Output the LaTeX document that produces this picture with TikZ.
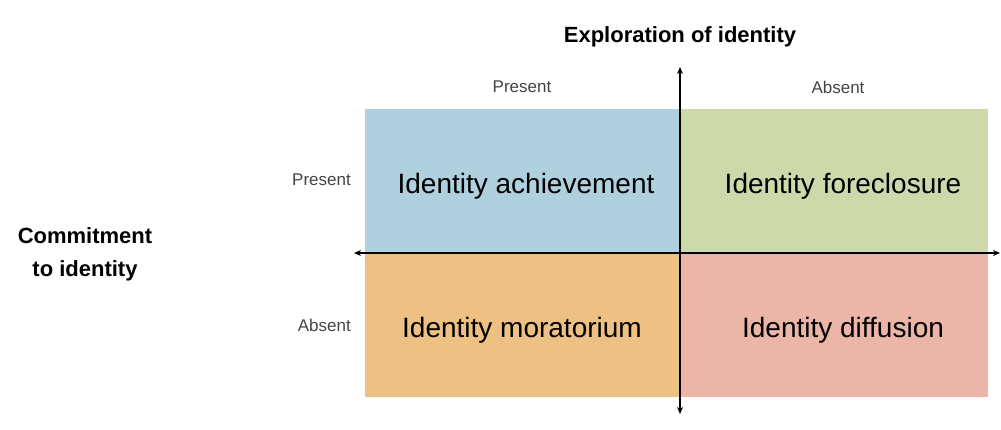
\documentclass[tikz,border=0pt]{standalone}
\usepackage{fontspec}
\setmainfont{Liberation Sans}
\usetikzlibrary{arrows.meta}
\definecolor{qblue}{HTML}{AED0DF}
\definecolor{qgreen}{HTML}{CDD9AB}
\definecolor{qorange}{HTML}{EDC084}
\definecolor{qpink}{HTML}{EBB5A8}
\definecolor{lblgrey}{HTML}{444444}
\begin{document}
\begin{tikzpicture}[x=1pt,y=-1pt,
  quad/.style={rectangle, inner sep=0pt, anchor=north west},
  qtext/.style={font=\fontsize{28}{30}\selectfont, inner sep=0pt, text=black},
  small/.style={font=\fontsize{17}{19}\selectfont, text=lblgrey, inner sep=0pt},
  title/.style={font=\bfseries\fontsize{22}{33}\selectfont, inner sep=0pt, align=center},
  axis/.style={line width=1.4pt, -{Stealth[length=7pt,width=6pt]}}]
\useasboundingbox (0,0) rectangle (1001,429);
\node[quad, fill=qblue, minimum width=315pt, minimum height=144pt] (ach) at (365,109) {};
\node[quad, fill=qgreen, minimum width=308pt, minimum height=144pt] (fore) at (680,109) {};
\node[quad, fill=qorange, minimum width=315pt, minimum height=144pt] (mor) at (365,253) {};
\node[quad, fill=qpink, minimum width=308pt, minimum height=144pt] (dif) at (680,253) {};
\node[qtext] (tach) at (526,186) {Identity achievement};
\node[qtext] (tfore) at (843,186) {Identity foreclosure};
\node[qtext] (tmor) at (522,330) {Identity moratorium};
\node[qtext] (tdif) at (843,330) {Identity diffusion};
\coordinate (vtop) at (680,67);
\coordinate (vbot) at (680,414);
\coordinate (hleft) at (354,253);
\coordinate (hright) at (1000,253);
\coordinate (vmid) at (680,253);
\draw[axis] (vmid) -- (vtop);
\draw[axis] (vmid) -- (vbot);
\draw[axis] (vmid) -- (hleft);
\draw[axis] (vmid) -- (hright);
\node[small] (pt) at (522,87) {Present};
\node[small] (at) at (838,87) {Absent};
\node[small, anchor=east] (pl) at (351,180) {Present};
\node[small, anchor=east] (al) at (351,325) {Absent};
\node[title] (expl) at (680,37) {Exploration of identity};
\node[title] (comm) at (85,254) {Commitment\\to identity};
\end{tikzpicture}
\end{document}
